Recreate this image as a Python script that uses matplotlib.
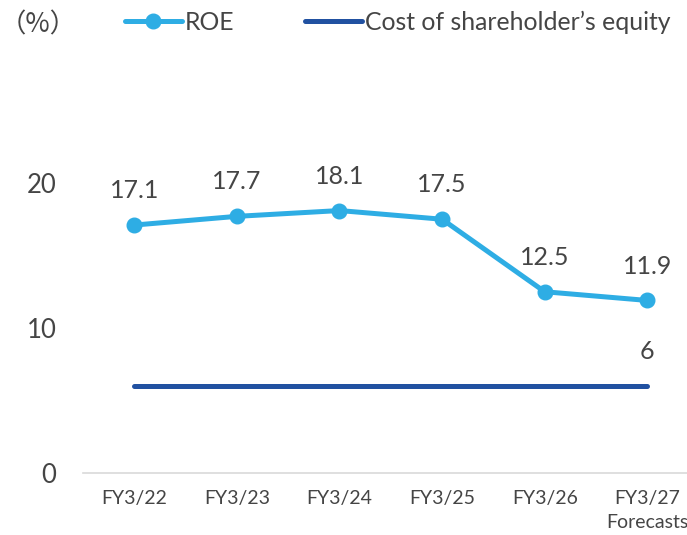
import matplotlib
matplotlib.use("Agg")
import matplotlib.pyplot as plt
from matplotlib.lines import Line2D

# data
years = ["FY3/22", "FY3/23", "FY3/24", "FY3/25", "FY3/26", "FY3/27\nForecasts"]
roe = [17.1, 17.7, 18.1, 17.5, 12.5, 11.9]
cost_of_equity = [6, 6, 6, 6, 6, 6]

ROE_COL = "#2EADE4"
COST_COL = "#2151A1"
TXT = "#454545"

plt.rcParams["font.family"] = ["Lato", "DejaVu Sans"]

fig = plt.figure(figsize=(6.87, 5.35), dpi=100)
ax = fig.add_axes([83 / 687, 62 / 535, 604 / 687, 362.5 / 535])

x = list(range(len(years)))
ax.plot(x, cost_of_equity, color=COST_COL, lw=3.6, solid_capstyle="round", zorder=2)
ax.plot(x, roe, color=ROE_COL, lw=3.6, marker="o", ms=10.5, solid_capstyle="round", zorder=3)

for xi, v in zip(x, roe):
    ax.annotate(f"{v}", (xi, v), xytext=(0, 16.5), textcoords="offset points",
                ha="center", va="bottom", fontsize=18, color=TXT)
ax.annotate(f"{cost_of_equity[-1]}", (x[-1], cost_of_equity[-1]), xytext=(0, 16.5),
            textcoords="offset points", ha="center", va="bottom", fontsize=18, color=TXT)

ax.set_xlim(-0.5, 5.387)
ax.set_ylim(0, 25)
ax.set_yticks([0, 10, 20])
ax.set_xticks(x)
ax.set_xticklabels(years, fontsize=14, color=TXT, linespacing=1.55)
ax.tick_params(axis="y", labelsize=18.5, labelcolor=TXT, length=0, pad=19)
ax.tick_params(axis="x", length=0, pad=12)
for s in ["top", "right", "left"]:
    ax.spines[s].set_visible(False)
ax.spines["bottom"].set_color("#D9D9D9")
ax.spines["bottom"].set_linewidth(1.2)

fig.text(0 / 687, 1 - 25 / 535, "\uff08%\uff09", fontsize=19, color=TXT, va="center", ha="left",
         family=["Noto Sans CJK JP", "DejaVu Sans"])

handles = [
    Line2D([], [], color=ROE_COL, lw=3.6, marker="o", ms=10.5, solid_capstyle="round"),
    Line2D([], [], color=COST_COL, lw=3.6, solid_capstyle="round"),
]
leg = fig.legend(handles, ["ROE", "Cost of shareholder\u2019s equity"], loc="center left",
                 bbox_to_anchor=(125 / 687, 1 - 22 / 535), ncol=2, frameon=False,
                 fontsize=17.8, handlelength=2.3, handletextpad=0.12, columnspacing=2.85,
                 borderaxespad=0, borderpad=0)
for t in leg.get_texts():
    t.set_color(TXT)

fig.savefig("out.png", dpi=100)
